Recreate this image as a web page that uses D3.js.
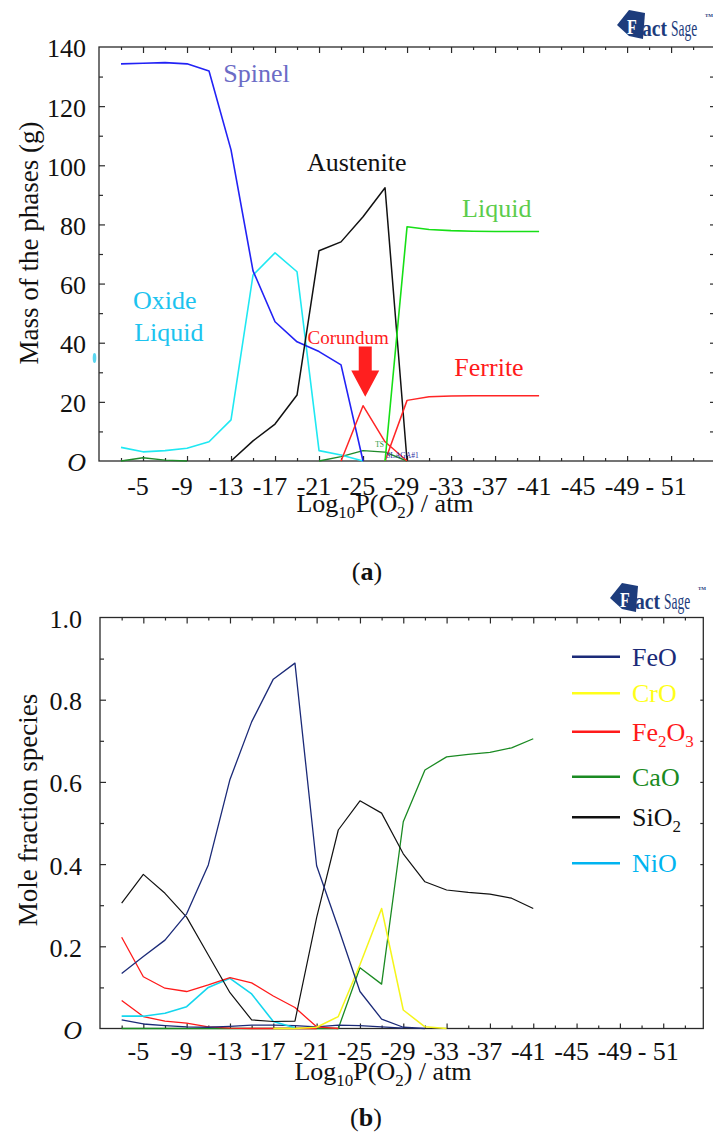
<!DOCTYPE html>
<html>
<head>
<meta charset="utf-8">
<script src="https://cdn.jsdelivr.net/npm/d3@7"></script>
<style>
  body { margin: 0; background: #fff; }
  svg { display: block; }
  text { font-family: "Liberation Serif", "Times New Roman", serif; }
</style>
</head>
<body>
<svg id="fig" width="713" height="1139"></svg>
<script>
// ---- shared x values: log10 P(O2) / atm ----
const logP = [-3, -5, -7, -9, -11, -13, -15, -17, -19, -21, -23, -25, -27, -29, -31, -33, -35, -37, -39, -41];
const xMajorTicks = [-5, -9, -13, -17, -21, -25, -29, -33, -37, -41, -45, -49, -53];
const xMinorTicks = [-3, -7, -11, -15, -19, -23, -27, -31, -35, -39, -43, -47, -51, -55];
const xTickLabels = ["-5", "-9", "-13", "-17", "-21", "-25", "-29", "-33", "-37", "-41", "-45", "-49", "- 51"];

// ---- panel (a): mass of the phases (g) ----
const massTicks = [0, 20, 40, 60, 80, 100, 120, 140];
const massTickLabels = ["O", "20", "40", "60", "80", "100", "120", "140"];
const massMinorTicks = [10, 30, 50, 70, 90, 110, 130];
const massRightTicks = [10, 20, 30, 40, 50, 60, 70, 80, 90, 100, 110, 120, 130];

const spinel      = [134.3, 134.5, 134.7, 134.3, 131.9, 105.2, 64.3, 47.1, 40.3, 37.0, 32.5, 0, null, null, null, null, null, null, null, null];
const oxideLiquid = [4.6, 3.1, 3.5, 4.3, 6.5, 13.9, 62.9, 70.4, 64.0, 3.5, 2.0, 0, null, null, null, null, null, null, null, null];
const austenite   = [null, null, null, null, null, 0, 6.8, 12.5, 22.3, 71.1, 74.1, 82.6, 92.4, 0, null, null, null, null, null, null];
const liquid      = [null, null, null, null, null, null, null, null, null, null, null, null, 0, 79.2, 78.3, 77.9, 77.7, 77.6, 77.6, 77.6];
const ferrite     = [null, null, null, null, null, null, null, null, null, null, null, null, 0, 20.5, 21.7, 22.0, 22.1, 22.1, 22.1, 22.1];
const corundum    = [null, null, null, null, null, null, null, null, null, null, 0, 18.7, 6.5, 0, null, null, null, null, null, null];
const tsPhase     = [0, 1.1, 0.3, 0, null, null, null, null, null, 0, 1.5, 3.5, 3.0, 0, null, null, null, null, null, null];

// ---- panel (b): mole fraction of species ----
const fracTicks = [0, 0.2, 0.4, 0.6, 0.8, 1.0];
const fracTickLabels = ["O", "0.2", "0.4", "0.6", "0.8", "1.0"];
const fracMinorTicks = [0.1, 0.3, 0.5, 0.7, 0.9];
const fracRightTicks = [0.1, 0.2, 0.3, 0.4, 0.5, 0.6, 0.7, 0.8, 0.9];

const feoMain    = [0.134, 0.175, 0.215, 0.279, 0.398, 0.606, 0.746, 0.850, 0.889, 0.396, 0.245, 0.090, 0.023, 0.003, 0, null, null, null, null, null];
const feoMinor   = [0.021, 0.011, 0.007, 0.004, 0.003, 0.005, 0.008, 0.008, 0.007, 0.004, 0.008, 0.007, 0.004, 0.001, null, null, null, null, null, null];
const croValues  = [null, null, null, null, null, null, null, 0, 0, 0.003, 0.029, 0.155, 0.292, 0.045, 0.004, 0, null, null, null, null];
const fe2o3Main  = [0.222, 0.126, 0.098, 0.090, 0.106, 0.124, 0.111, 0.079, 0.051, 0.004, 0, null, null, null, null, null, null, null, null, null];
const fe2o3Minor = [0.068, 0.029, 0.018, 0.013, 0.004, 0.001, 0, 0, 0, 0, null, null, null, null, null, null, null, null, null, null];
const caoValues  = [0, 0, 0, 0, 0, 0, 0, 0, 0, 0, 0, 0.148, 0.108, 0.503, 0.629, 0.661, 0.667, 0.672, 0.683, 0.705];
const sio2Values = [0.305, 0.375, 0.329, 0.271, 0.179, 0.087, 0.021, 0.017, 0.018, 0.270, 0.483, 0.554, 0.524, 0.425, 0.357, 0.337, 0.331, 0.327, 0.317, 0.292];
const nioValues  = [0.030, 0.030, 0.037, 0.053, 0.100, 0.122, 0.084, 0.017, 0.002, null, null, null, null, null, null, null, null, null, null, null];

const speciesNames  = ["FeO", "CrO", "Fe2O3", "CaO", "SiO2", "NiO"];
const speciesColors = ["#1b2a78", "#ffff1a", "#ff1a1a", "#1a8a22", "#111111", "#00b4f0"];

const svg = d3.select("#fig");

// FactSage trademark logo
function drawLogo(x0, y0) {
  const g = svg.append("g").attr("transform", `translate(${x0},${y0})`);
  const navy = "#1d3c7c";
  const sans = "Liberation Sans, Arial, sans-serif";
  g.append("path")
    .attr("d", "M0,15 L12,0 L28,3 L26,29 L12,26 Z")
    .attr("fill", navy);
  g.append("text").attr("transform", "translate(10,24) scale(1,1.3)")
    .attr("font-family", sans).attr("font-weight", "bold")
    .attr("font-size", 16).attr("fill", "#fff").text("F");
  g.append("text").attr("transform", "translate(25,26) scale(1.45,1.75)")
    .attr("font-family", sans).attr("font-weight", "bold").attr("font-size", 13.5)
    .attr("fill", navy).text("act");
  g.append("text").attr("transform", "translate(54,26) scale(1,1.75)")
    .attr("font-family", sans).attr("font-size", 13.5)
    .attr("fill", navy).text("Sage");
  g.append("text").attr("x", 88).attr("y", 7)
    .attr("font-family", sans).attr("font-weight", "bold").attr("font-size", 5)
    .attr("fill", navy).text("TM");
}

function drawPanel(p) {
  const x = d3.scaleLinear().domain([-1, p.xEnd]).range([p.left, p.right]);
  const y = d3.scaleLinear().domain([0, p.yMax]).range([p.bottom, p.top]);
  const g = svg.append("g");
  const frame = "#2a2a2a";

  // frame
  g.append("rect")
    .attr("x", p.left).attr("y", p.top)
    .attr("width", p.right - p.left).attr("height", p.bottom - p.top)
    .attr("fill", "none").attr("stroke", frame).attr("stroke-width", 1.3);

  const tickStyle = sel => {
    sel.select(".domain").remove();
    sel.selectAll(".tick line").attr("stroke", frame).attr("stroke-width", 1.2);
    sel.selectAll(".tick text").remove();
  };

  // inward ticks on all four sides
  g.append("g").attr("transform", `translate(0,${p.bottom})`)
    .call(d3.axisBottom(x).tickValues(xMajorTicks).tickSize(-5)).call(tickStyle);
  g.append("g").attr("transform", `translate(0,${p.bottom})`)
    .call(d3.axisBottom(x).tickValues(xMinorTicks).tickSize(-3)).call(tickStyle);
  g.append("g").attr("transform", `translate(0,${p.top})`)
    .call(d3.axisTop(x).tickValues(xMajorTicks).tickSize(-6)).call(tickStyle);
  g.append("g").attr("transform", `translate(0,${p.top})`)
    .call(d3.axisTop(x).tickValues(xMinorTicks).tickSize(-3)).call(tickStyle);
  g.append("g").attr("transform", `translate(${p.left},0)`)
    .call(d3.axisLeft(y).tickValues(p.yTicks.filter(v => v > 0 && v < p.yMax)).tickSize(-6)).call(tickStyle);
  g.append("g").attr("transform", `translate(${p.left},0)`)
    .call(d3.axisLeft(y).tickValues(p.yMinor).tickSize(-4)).call(tickStyle);
  g.append("g").attr("transform", `translate(${p.rightTicks},0)`)
    .call(d3.axisRight(y).tickValues(p.yRight).tickSize(-3)).call(tickStyle);

  // tick labels
  g.selectAll(".xlab").data(xMajorTicks).join("text")
    .attr("x", d => x(d) - 5).attr("y", p.bottom + p.xLabelOffset)
    .attr("text-anchor", "middle").attr("font-size", 26).attr("fill", "#111")
    .text((d, i) => xTickLabels[i]);
  g.selectAll(".ylab").data(p.yTicks).join("text")
    .attr("x", p.left - p.yLabelPad).attr("y", d => y(d))
    .attr("dy", "0.4em").attr("text-anchor", "end").attr("font-size", 26).attr("fill", "#111")
    .attr("font-style", (d, i) => p.yTickLabels[i] === "O" ? "italic" : null)
    .text((d, i) => p.yTickLabels[i]);

  // axis titles
  const xt = g.append("text")
    .attr("x", p.xTitleX).attr("y", p.bottom + p.xTitleOffset)
    .attr("text-anchor", "middle").attr("font-size", 26).attr("fill", "#111");
  xt.append("tspan").text("Log");
  xt.append("tspan").attr("font-size", 17).attr("dy", 6).text("10");
  xt.append("tspan").attr("dy", -6).text("P(O");
  xt.append("tspan").attr("font-size", 17).attr("dy", 6).text("2");
  xt.append("tspan").attr("dy", -6).text(") / atm");

  g.append("text")
    .attr("transform", `translate(${p.yTitleX},${p.yTitleY}) rotate(-90)`)
    .attr("text-anchor", "middle").attr("font-size", 27).attr("fill", "#111")
    .text(p.yTitle);

  // series
  const line = d3.line()
    .defined(d => d[1] != null)
    .x(d => x(d[0])).y(d => y(d[1]));
  p.series.forEach(s => {
    g.append("path")
      .datum(logP.map((v, i) => [v, s.values[i]]))
      .attr("d", line)
      .attr("fill", "none").attr("stroke", s.color)
      .attr("stroke-width", s.width || 1.4)
      .attr("stroke-linejoin", "round");
  });

  // panel tag
  const tag = g.append("text").attr("x", p.tagX).attr("y", p.tagY)
    .attr("text-anchor", "middle").attr("font-size", 26).attr("fill", "#111");
  tag.append("tspan").text("(");
  tag.append("tspan").attr("font-weight", "bold").text(p.tag);
  tag.append("tspan").text(")");

  return { g, x, y };
}

// ---------- panel (a) ----------
const a = drawPanel({
  left: 99, right: 714, rightTicks: 713, top: 47, bottom: 461, xEnd: -56.9, yMax: 140,
  yTicks: massTicks, yTickLabels: massTickLabels, yMinor: massMinorTicks, yRight: massRightTicks,
  xLabelOffset: 34, yLabelPad: 13, xTitleX: 385, xTitleOffset: 51,
  yTitle: "Mass of the phases (g)", yTitleX: 38, yTitleY: 243,
  tag: "a", tagX: 367, tagY: 580,
  series: [
    { values: tsPhase, color: "#1f8a2a", width: 1.4 },
    { values: oxideLiquid, color: "#1fe8f2", width: 1.6 },
    { values: spinel, color: "#2222f5", width: 1.6 },
    { values: austenite, color: "#111111", width: 1.5 },
    { values: corundum, color: "#ff2525", width: 1.5 },
    { values: ferrite, color: "#ff2525", width: 1.5 },
    { values: liquid, color: "#16df16", width: 1.6 }
  ]
});

// phase labels
const phaseLabels = [
  { text: "Spinel", x: -12.3, y: 128, color: "#6c6cc6", size: 26 },
  { text: "Austenite", x: -19.9, y: 98, color: "#111111", size: 26 },
  { text: "Liquid", x: -34.0, y: 82.5, color: "#5ccc4c", size: 26 },
  { text: "Oxide", x: -4.1, y: 51.5, color: "#1cc3ef", size: 26 },
  { text: "Liquid", x: -4.2, y: 40.5, color: "#1cc3ef", size: 26 },
  { text: "Corundum", x: -19.95, y: 39.5, color: "#ff2020", size: 19 },
  { text: "Ferrite", x: -33.3, y: 28.7, color: "#ff1a1a", size: 26 }
];
a.g.selectAll(".phase").data(phaseLabels).join("text")
  .attr("x", d => a.x(d.x)).attr("y", d => a.y(d.y))
  .attr("font-size", d => d.size).attr("fill", d => d.color)
  .text(d => d.text);

// arrow pointing at the corundum peak
{
  const cx = a.x(-25.2), yTop = a.y(38.7), yNeck = a.y(30.6), yTip = a.y(21.7);
  a.g.append("path")
    .attr("d", `M${cx - 6.5},${yTop} L${cx + 6.5},${yTop} L${cx + 6.5},${yNeck} L${cx + 14},${yNeck} L${cx},${yTip} L${cx - 14},${yNeck} L${cx - 6.5},${yNeck} Z`)
    .attr("fill", "#ff1f1f");
}

// small phase tags near the baseline
a.g.append("text").attr("x", a.x(-26.1)).attr("y", a.y(4.6))
  .attr("font-family", "Liberation Sans, Arial, sans-serif")
  .attr("font-size", 7.5).attr("fill", "#1f9a3a").text("TS");
a.g.append("text").attr("x", a.x(-27.1)).attr("y", a.y(1.0))
  .attr("font-family", "Liberation Sans, Arial, sans-serif")
  .attr("font-size", 7.5).attr("fill", "#2a2aa0").text("SLAGA#1");

// stray cyan mark left of the axis
a.g.append("ellipse").attr("cx", 94.5).attr("cy", 358).attr("rx", 1.8).attr("ry", 5)
  .attr("fill", "#5ad6f0");

drawLogo(617, 10);

// ---------- panel (b) ----------
const b = drawPanel({
  left: 100, right: 703.3, rightTicks: 703.3, top: 617.5, bottom: 1028.5, xEnd: -56.7, yMax: 1.0,
  yTicks: fracTicks, yTickLabels: fracTickLabels, yMinor: fracMinorTicks, yRight: fracRightTicks,
  xLabelOffset: 31.5, yLabelPad: 18, xTitleX: 383, xTitleOffset: 51,
  yTitle: "Mole fraction species", yTitleX: 36.5, yTitleY: 810,
  tag: "b", tagX: 366, tagY: 1126,
  series: [
    { values: caoValues, color: speciesColors[3], width: 1.3 },
    { values: fe2o3Minor, color: speciesColors[2], width: 1.3 },
    { values: feoMinor, color: speciesColors[0], width: 1.3 },
    { values: nioValues, color: "#14d6ee", width: 1.6 },
    { values: fe2o3Main, color: speciesColors[2], width: 1.3 },
    { values: croValues, color: "#f5f51a", width: 1.5 },
    { values: sio2Values, color: speciesColors[4], width: 1.2 },
    { values: feoMain, color: speciesColors[0], width: 1.3 }
  ]
});

// legend
const legendY = [656.7, 693.3, 731.7, 776.7, 817.3, 863.3];
const legend = b.g.append("g");
speciesNames.forEach((name, i) => {
  legend.append("line")
    .attr("x1", 572).attr("x2", 620).attr("y1", legendY[i]).attr("y2", legendY[i])
    .attr("stroke", speciesColors[i]).attr("stroke-width", 2.4);
  const t = legend.append("text").attr("x", 632).attr("y", legendY[i] + 9)
    .attr("font-size", 26).attr("fill", speciesColors[i]);
  // chemical formulas: digits as subscripts
  name.split(/(\d)/).filter(s => s.length).forEach(part => {
    if (/\d/.test(part)) {
      t.append("tspan").attr("font-size", 17).attr("dy", 6).text(part);
    } else {
      const prev = t.selectAll("tspan").size();
      const tp = t.append("tspan").text(part);
      if (prev > 0) tp.attr("dy", -6);
    }
  });
});

drawLogo(610, 583);
</script>
</body>
</html>
